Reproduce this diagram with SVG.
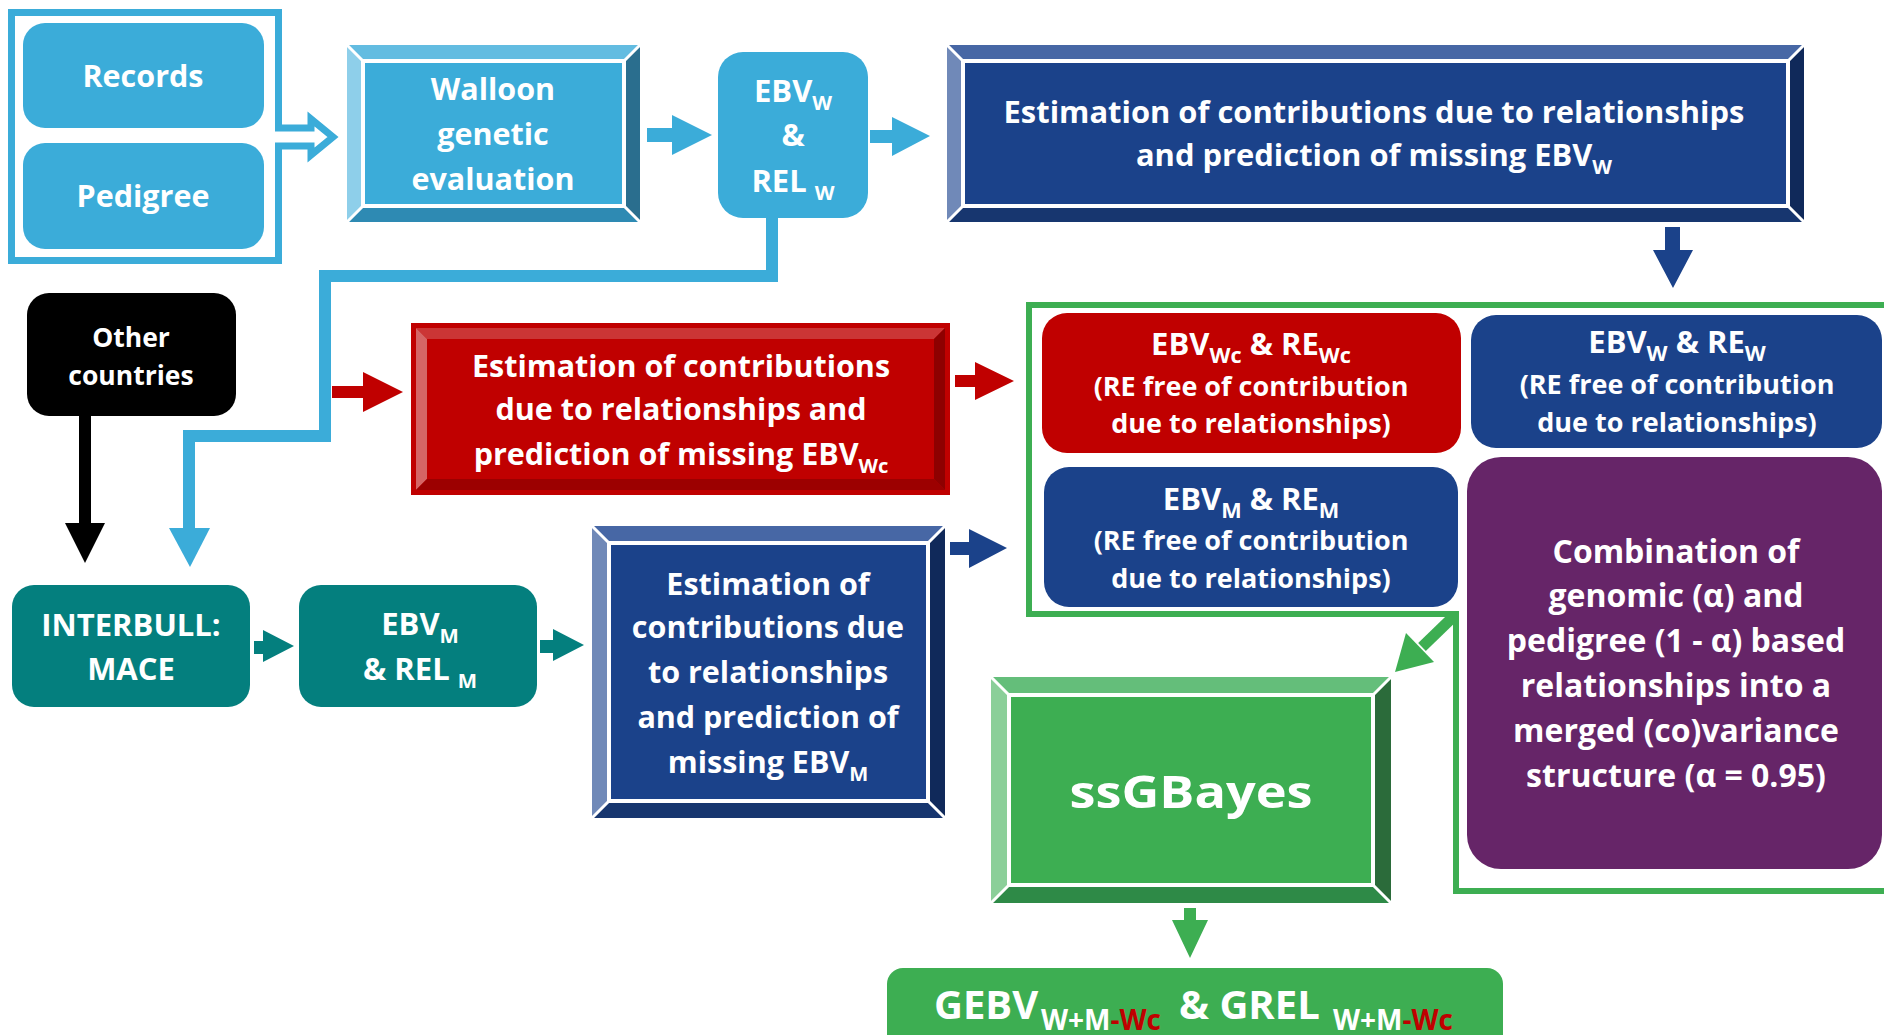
<svg xmlns="http://www.w3.org/2000/svg" width="1884" height="1035" viewBox="0 0 1884 1035">
<defs>
<style>
.t{font-family:"Open Sans","Noto Sans","Liberation Sans",sans-serif;font-weight:700;fill:#fff;text-anchor:middle}
.s{font-size:0.66em}
.s2{font-size:0.7em}
.lb{fill:#3BACD9}
.nv{fill:#1B428A}
.gap{fill:none;stroke:#fff;stroke-width:4}
.dg{stroke:#fff;stroke-width:3}
</style>
</defs>
<rect width="1884" height="1035" fill="#fff"/>

<g id="connectors">
<path d="M278.5 128 V12.5 H11.5 V260.5 H278.5 V146 H311 V155 L333 137 L311 119 V128 Z" fill="none" stroke="#3BACD9" stroke-width="7"/>
<path d="M772 218 V276 H325 V436 H189 V530" fill="none" stroke="#3BACD9" stroke-width="12"/>
<path d="M169 528 H210 L190 567 Z" fill="#3BACD9"/>
<path d="M647 128 H672 V115 L712 135 L672 155 V142 H647 Z" fill="#3BACD9"/>
<path d="M870 130 H892 V117 L930 136 L892 156 V143 H870 Z" fill="#3BACD9"/>
<path d="M1665 227 H1680 V250 H1693 L1673 288 L1653 250 H1665 Z" fill="#1B428A"/>
<path d="M332 386 H363 V372 L403 392 L363 412 V398 H332 Z" fill="#C00000"/>
<path d="M955 375 H975 V362 L1014 381 L975 400 V387 H955 Z" fill="#C00000"/>
<path d="M950 542 H969 V529 L1007 548 L969 568 V555 H950 Z" fill="#1B428A"/>
<path d="M79 416 H91 V523 H105 L85 563 L65 523 H79 Z" fill="#000"/>
<path d="M254 641 H263 V630 L294 646 L263 662 V654 H254 Z" fill="#047F7E"/>
<path d="M540 640 H553 V629 L584 645 L553 661 V653 H540 Z" fill="#047F7E"/>
<path d="M1890 305 H1029 V614 H1456 V891 H1890" fill="none" stroke="#3DAE52" stroke-width="6"/>
<path d="M1453 617 L1422 647" stroke="#3DAE52" stroke-width="11"/>
<path d="M1434 662 L1406 633 L1395 672 Z" fill="#3DAE52"/>
<path d="M1184 908 H1196 V920 H1208 L1190 958 L1172 920 H1184 Z" fill="#3DAE52"/>
</g>

<g id="records">
<rect x="23" y="23" width="241" height="105" rx="22" class="lb"/>
<text class="t" x="143" y="87" font-size="30.5">Records</text>
</g>
<g id="pedigree">
<rect x="23" y="143" width="241" height="106" rx="22" class="lb"/>
<text class="t" x="143" y="207" font-size="30.5">Pedigree</text>
</g>

<g id="walloon">
<path d="M347 45 H640 L624 61 H363 Z" fill="#63BCE1"/>
<path d="M347 45 L363 61 V206 L347 222 Z" fill="#8ECFEA"/>
<path d="M347 222 L363 206 H624 L640 222 Z" fill="#2E8AB3"/>
<path d="M640 45 V222 L624 206 V61 Z" fill="#2A6E8E"/>
<rect x="363" y="61" width="261" height="145" class="gap" style="fill:#3BACD9"/>
<path d="M347 45 L363 61 M640 45 L624 61 M347 222 L363 206 M640 222 L624 206" class="dg"/>
<text class="t" x="493" y="100" font-size="30.5">Walloon</text>
<text class="t" x="493" y="145" font-size="30.5">genetic</text>
<text class="t" x="493" y="190" font-size="30.5">evaluation</text>
</g>

<g id="ebvw">
<rect x="718" y="52" width="150" height="166" rx="25" class="lb"/>
<text class="t" x="793" y="102" font-size="31">EBV<tspan class="s" dy="8">W</tspan></text>
<text class="t" x="793" y="146" font-size="31">&amp;</text>
<text class="t" x="793" y="192" font-size="31">REL <tspan class="s" dy="8">W</tspan></text>
</g>

<g id="estimation-w">
<path d="M947 45 H1804 L1788 61 H963 Z" fill="#4767A5"/>
<path d="M947 45 L963 61 V206 L947 222 Z" fill="#7089B8"/>
<path d="M947 222 L963 206 H1788 L1804 222 Z" fill="#17366F"/>
<path d="M1804 45 V222 L1788 206 V61 Z" fill="#10295A"/>
<rect x="963" y="61" width="825" height="145" class="gap" style="fill:#1B428A"/>
<path d="M947 45 L963 61 M1804 45 L1788 61 M947 222 L963 206 M1804 222 L1788 206" class="dg"/>
<text class="t" x="1374" y="123" font-size="30.9">Estimation of contributions due to relationships</text>
<text class="t" x="1374" y="166" font-size="30.9">and prediction of missing EBV<tspan class="s" dy="8">W</tspan></text>
</g>

<g id="other-countries">
<rect x="27" y="293" width="209" height="123" rx="22" fill="#000"/>
<text class="t" x="131" y="347" font-size="26.5">Other</text>
<text class="t" x="131" y="385" font-size="26.5">countries</text>
</g>

<g id="estimation-wc">
<rect x="411" y="323" width="539" height="172" fill="#C00000"/>
<path d="M416 328 H945 L934 339 H427 Z" fill="#CB3535"/>
<path d="M416 328 L427 339 V479 L416 490 Z" fill="#D56565"/>
<path d="M416 490 L427 479 H934 L945 490 Z" fill="#9C0000"/>
<path d="M945 328 V490 L934 479 V339 Z" fill="#8E0000"/>
<text class="t" x="681" y="377" font-size="30.5">Estimation of contributions</text>
<text class="t" x="681" y="420" font-size="30.5">due to relationships and</text>
<text class="t" x="681" y="465" font-size="30.5">prediction of missing EBV<tspan class="s" dy="8">Wc</tspan></text>
</g>

<g id="interbull">
<rect x="12" y="585" width="238" height="122" rx="22" fill="#047F7E"/>
<text class="t" x="131" y="636" font-size="31">INTERBULL:</text>
<text class="t" x="131" y="680" font-size="31">MACE</text>
</g>

<g id="ebvm">
<rect x="299" y="585" width="238" height="122" rx="22" fill="#047F7E"/>
<text class="t" x="420" y="635" font-size="31">EBV<tspan class="s" dy="8">M</tspan></text>
<text class="t" x="420" y="680" font-size="31">&amp; REL <tspan class="s" dy="8">M</tspan></text>
</g>

<g id="estimation-m">
<path d="M592 526 H945 L928 543 H609 Z" fill="#4767A5"/>
<path d="M592 526 L609 543 V801 L592 818 Z" fill="#7089B8"/>
<path d="M592 818 L609 801 H928 L945 818 Z" fill="#17366F"/>
<path d="M945 526 V818 L928 801 V543 Z" fill="#10295A"/>
<rect x="609" y="543" width="319" height="258" class="gap" style="fill:#1B428A"/>
<path d="M592 526 L609 543 M945 526 L928 543 M592 818 L609 801 M945 818 L928 801" class="dg"/>
<text class="t" x="768" y="595" font-size="30.5">Estimation of</text>
<text class="t" x="768" y="638" font-size="30.5">contributions due</text>
<text class="t" x="768" y="683" font-size="30.5">to relationships</text>
<text class="t" x="768" y="728" font-size="30.5">and prediction of</text>
<text class="t" x="768" y="773" font-size="30.5">missing EBV<tspan class="s" dy="8">M</tspan></text>
</g>

<g id="ebv-wc">
<rect x="1042" y="313" width="419" height="140" rx="25" fill="#C00000"/>
<text class="t" x="1251" y="355" font-size="31">EBV<tspan class="s2" dy="8">Wc</tspan><tspan dy="-8"> &amp; RE</tspan><tspan class="s2" dy="8">Wc</tspan></text>
<text class="t" x="1251" y="396" font-size="27">(RE free of contribution</text>
<text class="t" x="1251" y="433" font-size="27">due to relationships)</text>
</g>

<g id="ebv-w">
<rect x="1471" y="315" width="411" height="133" rx="25" class="nv"/>
<text class="t" x="1677" y="353" font-size="31">EBV<tspan class="s2" dy="8">W</tspan><tspan dy="-8"> &amp; RE</tspan><tspan class="s2" dy="8">W</tspan></text>
<text class="t" x="1677" y="394" font-size="27">(RE free of contribution</text>
<text class="t" x="1677" y="432" font-size="27">due to relationships)</text>
</g>

<g id="ebv-m">
<rect x="1044" y="467" width="414" height="140" rx="25" class="nv"/>
<text class="t" x="1251" y="510" font-size="31">EBV<tspan class="s2" dy="8">M</tspan><tspan dy="-8"> &amp; RE</tspan><tspan class="s2" dy="8">M</tspan></text>
<text class="t" x="1251" y="550" font-size="27">(RE free of contribution</text>
<text class="t" x="1251" y="588" font-size="27">due to relationships)</text>
</g>

<g id="combination">
<rect x="1467" y="457" width="415" height="412" rx="34" fill="#662568"/>
<text class="t" x="1676" y="563" font-size="32">Combination of</text>
<text class="t" x="1676" y="607" font-size="32">genomic (α) and</text>
<text class="t" x="1676" y="652" font-size="32">pedigree (1 - α) based</text>
<text class="t" x="1676" y="697" font-size="32">relationships into a</text>
<text class="t" x="1676" y="742" font-size="32">merged (co)variance</text>
<text class="t" x="1676" y="787" font-size="32">structure (α = 0.95)</text>
</g>

<g id="ssgbayes">
<path d="M991 677 H1391 L1373 695 H1009 Z" fill="#64BE7A"/>
<path d="M991 677 L1009 695 V885 L991 903 Z" fill="#8BCF99"/>
<path d="M991 903 L1009 885 H1373 L1391 903 Z" fill="#2E8A47"/>
<path d="M1391 677 V903 L1373 885 V695 Z" fill="#2B6B3A"/>
<rect x="1009" y="695" width="364" height="190" class="gap" style="fill:#3DAE52"/>
<path d="M991 677 L1009 695 M1391 677 L1373 695 M991 903 L1009 885 M1391 903 L1373 885" class="dg"/>
<text class="t" x="1191" y="808" font-size="45" textLength="243" lengthAdjust="spacingAndGlyphs">ssGBayes</text>
</g>

<g id="gebv">
<rect x="887" y="968" width="616" height="90" rx="16" fill="#3DAE52"/>
<text class="t" style="text-anchor:start" y="1019" font-size="40"><tspan x="934">GEBV</tspan><tspan x="1041" dy="11" font-size="28">W+M</tspan><tspan font-size="28" fill="#C00000">-Wc</tspan><tspan x="1179" dy="-11">&amp; GREL</tspan><tspan x="1333" dy="11" font-size="28">W+M</tspan><tspan font-size="28" fill="#C00000">-Wc</tspan></text>
</g>
</svg>
